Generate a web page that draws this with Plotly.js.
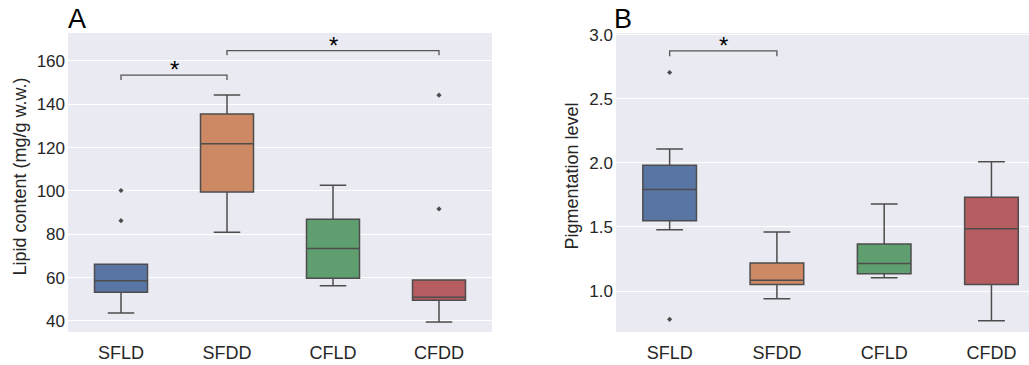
<!DOCTYPE html>
<html>
<head>
<meta charset="utf-8">
<script src="https://cdn.plot.ly/plotly-3.0.1.min.js"></script>
<style>html,body{margin:0;padding:0;background:#fff;}#chart{width:1029px;height:365px;}</style>
</head>
<body>
<div id="chart"></div>
<script>
// ---- data ----
const categories = ['SFLD', 'SFDD', 'CFLD', 'CFDD'];
const boxColors = ['#5875a4', '#cc8963', '#5f9e6e', '#b55d60'];

// Panel A: lipid content (mg/g w.w.)
const lipidLower  = [43.7, 80.9, 56.2, 39.5];
const lipidQ1     = [53.2, 99.5, 59.7, 49.5];
const lipidMedian = [58.5, 121.8, 73.4, 50.9];
const lipidQ3     = [66.2, 135.5, 86.9, 58.9];
const lipidUpper  = [66.2, 144.3, 102.6, 58.9];
const lipidOutlierCat = ['SFLD', 'SFLD', 'CFDD', 'CFDD'];
const lipidOutlierVal = [100.2, 86.3, 144.2, 91.7];

// Panel B: pigmentation level
const pigLower  = [1.479, 0.940, 1.104, 0.769];
const pigQ1     = [1.549, 1.052, 1.135, 1.052];
const pigMedian = [1.793, 1.085, 1.215, 1.487];
const pigQ3     = [1.982, 1.220, 1.368, 1.731];
const pigUpper  = [2.109, 1.461, 1.679, 2.008];
const pigOutlierCat = ['SFLD', 'SFLD'];
const pigOutlierVal = [2.705, 0.780];

// significance brackets: [from, to, level, drop]
const lipidSig = [['SFLD', 'SFDD', 153.5, 2.3], ['SFDD', 'CFDD', 164.8, 2.2]];
const pigSig = [['SFLD', 'SFDD', 2.873, 0.041]];

// ---- build ----
const lineCol = '#4d4d4d';
const FONT = 'Liberation Sans, Arial, sans-serif';
const traces = [];
function addBoxes(lower, q1, med, q3, upper, xa, ya) {
  categories.forEach((c, i) => {
    traces.push({
      type: 'box', x: [c], q1: [q1[i]], median: [med[i]], q3: [q3[i]],
      lowerfence: [lower[i]], upperfence: [upper[i]],
      fillcolor: boxColors[i], line: {color: lineCol, width: 1.5},
      width: 0.5, whiskerwidth: 0.5, xaxis: xa, yaxis: ya,
      showlegend: false, hoverinfo: 'skip'
    });
  });
}
addBoxes(lipidLower, lipidQ1, lipidMedian, lipidQ3, lipidUpper, 'x', 'y');
addBoxes(pigLower, pigQ1, pigMedian, pigQ3, pigUpper, 'x2', 'y2');
traces.push({type: 'scatter', mode: 'markers', x: lipidOutlierCat, y: lipidOutlierVal,
  marker: {symbol: 'diamond', size: 4, color: lineCol}, xaxis: 'x', yaxis: 'y', showlegend: false});
traces.push({type: 'scatter', mode: 'markers', x: pigOutlierCat, y: pigOutlierVal,
  marker: {symbol: 'diamond', size: 4, color: lineCol}, xaxis: 'x2', yaxis: 'y2', showlegend: false});

const shapes = [];
const annotations = [];
function addSig(list, xr, yr) {
  list.forEach(([a, b, lvl, drop]) => {
    const xa = categories.indexOf(a), xb = categories.indexOf(b);
    shapes.push({type: 'path', xref: xr, yref: yr,
      path: `M ${xa} ${lvl - drop} L ${xa} ${lvl} L ${xb} ${lvl} L ${xb} ${lvl - drop}`,
      line: {color: '#555555', width: 1.3}});
    annotations.push({xref: xr, yref: yr, x: (xa + xb) / 2, y: lvl, text: '*',
      showarrow: false, yanchor: 'bottom', yshift: -10, font: {family: FONT, size: 24, color: '#000'}});
  });
}
addSig(lipidSig, 'x', 'y');
addSig(pigSig, 'x2', 'y2');

annotations.push({xref: 'paper', yref: 'paper', x: 77 / 1029, y: 1, yshift: 14, text: 'A', showarrow: false,
  xanchor: 'center', yanchor: 'middle', font: {family: FONT, size: 27, color: '#000'}});
annotations.push({xref: 'paper', yref: 'paper', x: 623 / 1029, y: 1, yshift: 14, text: 'B', showarrow: false,
  xanchor: 'center', yanchor: 'middle', font: {family: FONT, size: 27, color: '#000'}});
annotations.push({xref: 'paper', yref: 'paper', x: 20 / 1029, y: 0.52, text: 'Lipid content (mg/g w.w.)',
  textangle: -90, showarrow: false, xanchor: 'center', yanchor: 'middle', font: {family: FONT, size: 18, color: '#262626'}});
annotations.push({xref: 'paper', yref: 'paper', x: 572 / 1029, y: 0.52, text: 'Pigmentation level',
  textangle: -90, showarrow: false, xanchor: 'center', yanchor: 'middle', font: {family: FONT, size: 18, color: '#262626'}});

const tickFont = {family: FONT, size: 17, color: '#262626'};
const xBase = {type: 'category', categoryarray: categories, categoryorder: 'array', showgrid: false,
  zeroline: false, ticks: '', tickfont: {family: FONT, size: 18, color: '#262626'}, showline: false, ticklabelstandoff: 8};
const yBase = {showgrid: true, gridcolor: '#ffffff', gridwidth: 1, zeroline: false, ticks: '',
  tickfont: tickFont, showline: false, ticklabelstandoff: 2};

const layout = {
  width: 1029, height: 365,
  margin: {l: 0, r: 0, t: 33, b: 33},
  paper_bgcolor: '#ffffff', plot_bgcolor: '#eaeaf2',
  boxmode: 'overlay', showlegend: false,
  xaxis: Object.assign({}, xBase, {domain: [68 / 1029, 492 / 1029], range: [-0.5, 3.5], anchor: 'y'}),
  yaxis: Object.assign({}, yBase, {domain: [0, 1], range: [34.9, 172.9], tickvals: [40, 60, 80, 100, 120, 140, 160], anchor: 'x'}),
  xaxis2: Object.assign({}, xBase, {domain: [616 / 1029, 1], range: [-0.5, 3.35], anchor: 'y2'}),
  yaxis2: Object.assign({}, yBase, {domain: [0, 1], range: [0.681, 3.013], tickvals: [1.0, 1.5, 2.0, 2.5, 3.0],
    ticktext: ['1.0', '1.5', '2.0', '2.5', '3.0'], anchor: 'x2'}),
  shapes: shapes, annotations: annotations
};

Plotly.newPlot('chart', traces, layout, {displayModeBar: false, staticPlot: true});
</script>
</body>
</html>
